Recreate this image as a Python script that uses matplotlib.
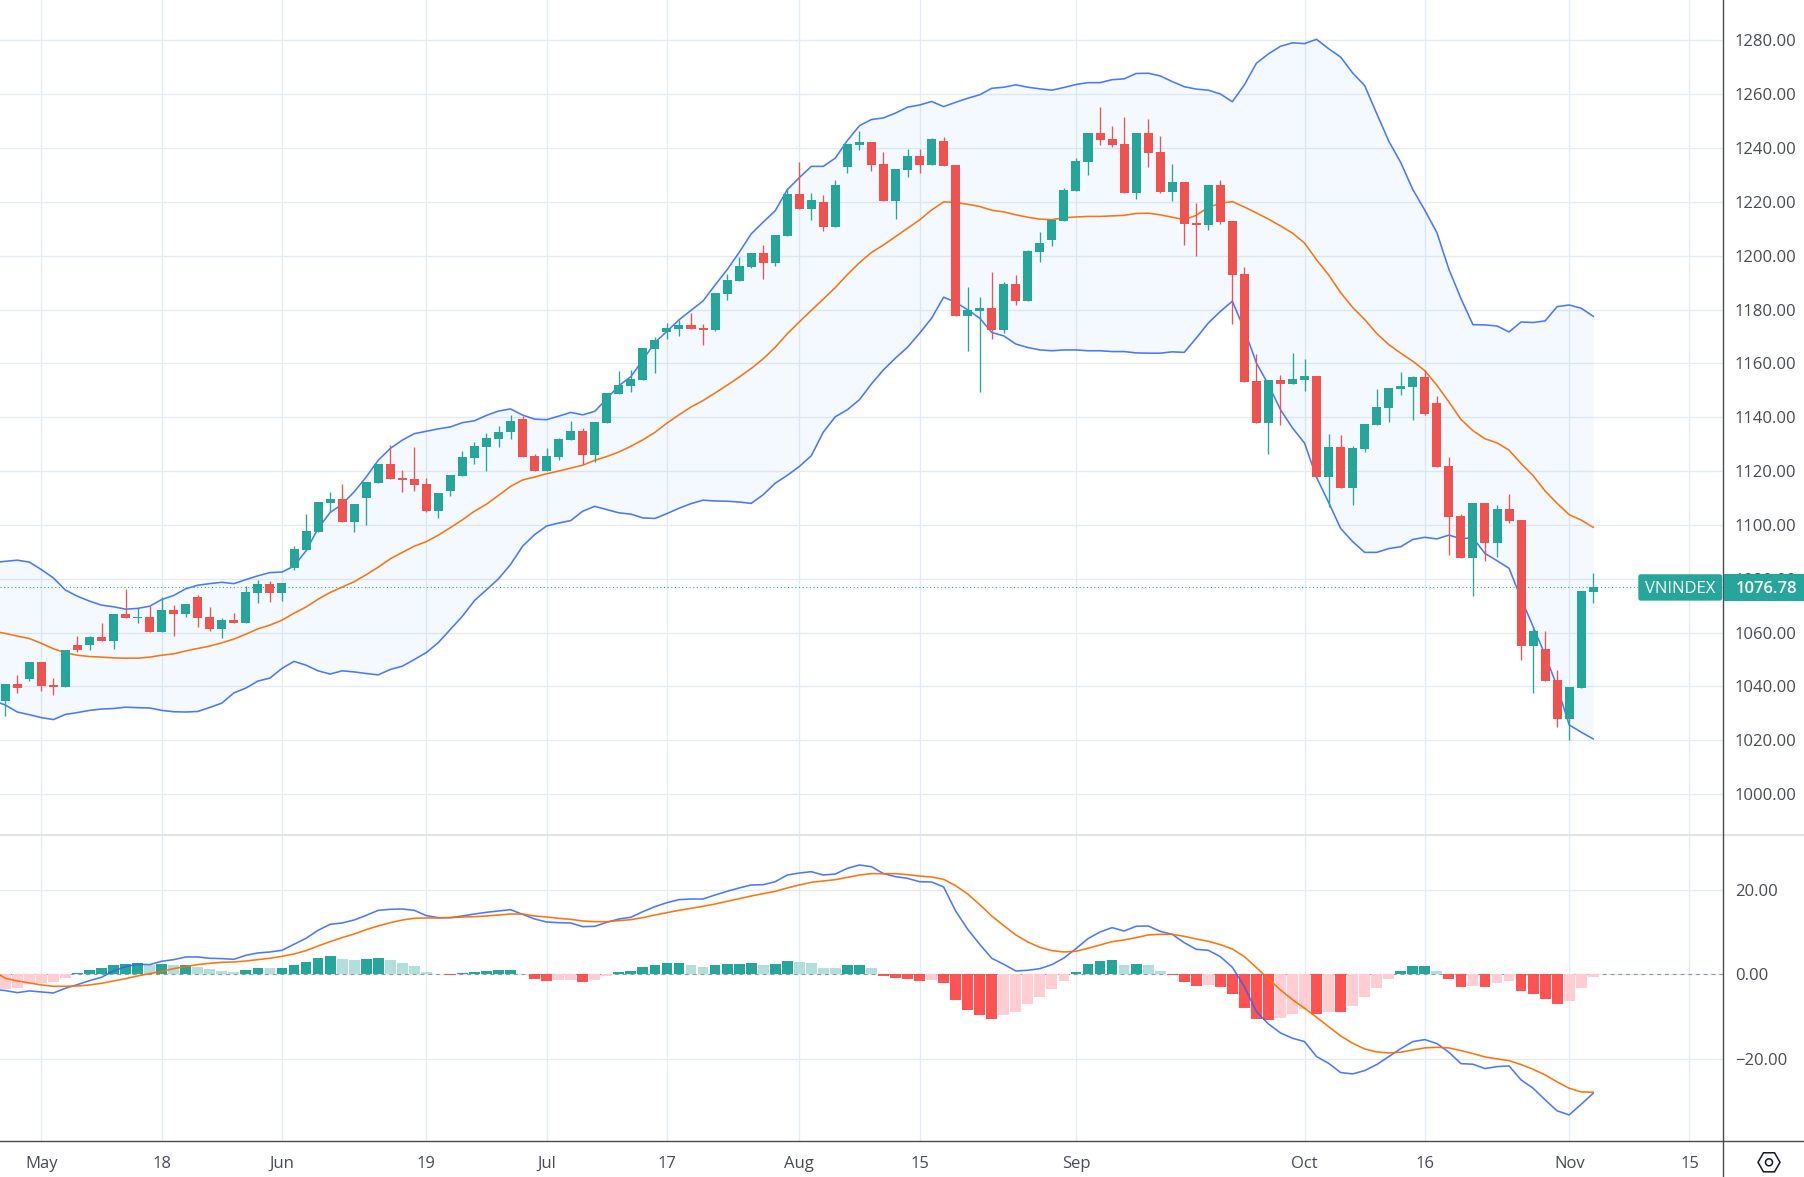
import matplotlib
matplotlib.use('Agg')
import matplotlib.pyplot as plt
from matplotlib.patches import FancyBboxPatch, RegularPolygon, Circle
import numpy as np

plt.rcParams['font.family'] = ['Open Sans', 'DejaVu Sans']

# Candles, one value per trading day
opens = [1034.7, 1040.9, 1042.8, 1049.0, 1040.5, 1039.9, 1055.3, 1055.5, 1058.3, 1057.0, 1066.9, 1065.4, 1065.7, 1060.3, 1068.3, 1067.0, 1073.2, 1065.7, 1061.4, 1064.6,
         1063.6, 1074.8, 1078.0, 1074.8, 1084.1, 1090.7, 1097.4, 1108.2, 1109.6, 1101.1, 1110.0, 1115.6, 1122.5, 1117.4, 1117.0, 1115.1, 1105.1, 1112.5, 1118.1, 1124.8,
         1128.9, 1131.8, 1134.4, 1139.4, 1125.7, 1120.2, 1125.3, 1131.6, 1135.0, 1126.1, 1138.0, 1148.7, 1151.7, 1153.9, 1165.4, 1171.7, 1172.8, 1174.3, 1173.2, 1172.5,
         1185.8, 1190.7, 1195.9, 1201.1, 1197.4, 1207.4, 1223.0, 1217.4, 1220.0, 1210.7, 1233.0, 1241.2, 1242.3, 1234.1, 1220.4, 1231.9, 1237.1, 1233.7, 1242.6, 1233.7,
         1177.7, 1179.5, 1180.6, 1172.5, 1189.6, 1183.2, 1201.4, 1205.9, 1212.9, 1224.1, 1234.9, 1245.6, 1243.4, 1241.5, 1223.3, 1245.6, 1238.6, 1223.7, 1227.4, 1212.2,
         1211.5, 1226.3, 1212.9, 1193.3, 1153.5, 1137.9, 1153.9, 1152.4, 1153.9, 1155.4, 1117.9, 1128.9, 1113.7, 1128.2, 1137.1, 1143.4, 1150.4, 1151.2, 1154.9, 1145.2,
         1121.9, 1103.3, 1087.7, 1108.1, 1093.3, 1105.9, 1101.8, 1055.0, 1053.9, 1042.4, 1027.9, 1039.4, 1075.2]
closes = [1040.9, 1039.5, 1049.0, 1040.2, 1039.9, 1053.5, 1053.6, 1058.3, 1056.8, 1066.9, 1065.5, 1065.7, 1060.3, 1068.3, 1067.0, 1070.6, 1065.5, 1061.4, 1064.6, 1063.6,
          1075.0, 1078.0, 1074.8, 1078.4, 1091.0, 1097.7, 1108.4, 1109.6, 1101.1, 1107.7, 1115.9, 1122.5, 1117.1, 1116.6, 1114.8, 1105.1, 1111.8, 1118.5, 1125.1, 1129.2,
          1132.2, 1134.4, 1138.7, 1125.3, 1120.2, 1125.7, 1132.0, 1135.0, 1126.1, 1138.3, 1149.1, 1152.1, 1154.3, 1165.8, 1168.8, 1173.2, 1174.3, 1172.8, 1172.5, 1186.2,
          1191.0, 1196.2, 1201.1, 1197.4, 1207.7, 1223.0, 1217.4, 1220.7, 1210.7, 1226.3, 1241.5, 1242.3, 1233.7, 1220.4, 1232.3, 1237.1, 1233.7, 1243.4, 1233.4, 1177.7,
          1179.9, 1180.6, 1172.5, 1189.6, 1183.2, 1201.8, 1204.8, 1213.3, 1224.5, 1235.2, 1245.6, 1243.0, 1241.2, 1223.3, 1245.6, 1238.2, 1223.7, 1227.4, 1211.8, 1211.5,
          1226.3, 1212.6, 1192.9, 1153.2, 1137.9, 1153.9, 1152.4, 1154.3, 1155.4, 1117.9, 1128.9, 1113.7, 1128.5, 1137.5, 1143.8, 1150.8, 1151.6, 1154.9, 1141.2, 1121.5,
          1102.9, 1087.7, 1108.1, 1093.3, 1105.9, 1101.4, 1055.0, 1060.6, 1042.0, 1027.9, 1039.8, 1075.4, 1076.78]
highs = [1040.9, 1044.2, 1049.0, 1049.0, 1043.0, 1053.5, 1058.7, 1058.6, 1063.5, 1066.9, 1076.1, 1069.0, 1069.7, 1073.4, 1070.1, 1070.6, 1073.9, 1069.5, 1065.4, 1067.2,
         1077.3, 1079.5, 1079.0, 1078.4, 1092.1, 1104.0, 1108.4, 1112.2, 1115.1, 1107.7, 1115.9, 1122.5, 1129.6, 1120.3, 1128.9, 1117.4, 1111.8, 1118.5, 1127.4, 1130.7,
         1134.1, 1136.7, 1140.9, 1140.5, 1126.4, 1128.7, 1132.4, 1138.7, 1136.1, 1138.3, 1149.1, 1157.3, 1157.6, 1165.8, 1169.9, 1175.1, 1176.2, 1178.8, 1174.7, 1186.2,
         1193.3, 1199.6, 1201.1, 1204.0, 1207.7, 1225.2, 1234.9, 1223.3, 1222.6, 1228.2, 1241.5, 1246.4, 1242.3, 1238.6, 1232.3, 1239.7, 1239.7, 1243.8, 1244.1, 1233.7,
         1188.4, 1184.7, 1194.0, 1190.3, 1192.9, 1202.2, 1208.9, 1213.7, 1225.2, 1236.3, 1245.6, 1255.3, 1248.2, 1251.6, 1245.6, 1250.8, 1244.5, 1234.1, 1227.4, 1219.6,
         1226.3, 1228.2, 1212.9, 1195.9, 1163.6, 1153.9, 1155.8, 1163.9, 1161.7, 1155.4, 1133.7, 1133.4, 1129.3, 1137.5, 1150.4, 1150.8, 1156.8, 1155.3, 1157.5, 1147.8,
         1125.2, 1104.0, 1108.1, 1108.1, 1107.4, 1111.5, 1101.8, 1062.1, 1060.6, 1046.1, 1039.8, 1075.4, 1082.1]
lows = [1029.1, 1037.6, 1042.1, 1038.4, 1036.9, 1039.9, 1052.9, 1053.6, 1056.8, 1054.0, 1065.5, 1063.6, 1060.3, 1060.3, 1058.8, 1065.9, 1062.2, 1060.7, 1058.1, 1063.6,
        1063.6, 1071.1, 1071.4, 1071.8, 1083.3, 1090.7, 1097.4, 1104.7, 1101.1, 1097.4, 1099.9, 1115.6, 1117.1, 1112.3, 1112.6, 1104.7, 1102.6, 1110.7, 1118.1, 1122.6,
        1120.0, 1128.9, 1132.0, 1125.3, 1120.2, 1120.2, 1124.0, 1131.6, 1122.5, 1123.2, 1138.0, 1148.7, 1149.5, 1153.9, 1156.5, 1169.1, 1170.2, 1172.8, 1166.9, 1172.1,
        1183.6, 1190.7, 1195.5, 1191.4, 1196.2, 1207.4, 1217.4, 1213.3, 1209.2, 1210.7, 1230.8, 1239.3, 1231.5, 1220.4, 1213.7, 1229.3, 1230.8, 1233.7, 1233.4, 1177.7,
        1164.7, 1149.5, 1169.1, 1171.4, 1181.8, 1183.2, 1197.7, 1203.7, 1212.9, 1224.1, 1230.0, 1241.2, 1240.4, 1223.3, 1221.1, 1233.0, 1223.3, 1220.4, 1204.0, 1200.0,
        1209.6, 1211.8, 1174.7, 1153.2, 1137.9, 1126.4, 1137.2, 1152.4, 1149.8, 1117.9, 1106.8, 1113.7, 1107.4, 1127.0, 1137.1, 1138.2, 1148.2, 1138.9, 1140.8, 1121.5,
        1088.8, 1087.7, 1073.6, 1086.6, 1088.1, 1100.7, 1049.8, 1037.6, 1042.0, 1025.0, 1020.1, 1039.4, 1071.0]

# Bollinger bands, these lists hold one extra leading day that runs off the left edge
bb_upper = [1085.9, 1086.5, 1086.9, 1086.2, 1083.4, 1080.3, 1075.8, 1073.5, 1071.7, 1070.2, 1069.6, 1068.7, 1069.0, 1069.8, 1072.3, 1073.8, 1076.3, 1077.6, 1078.2, 1078.7, 1078.2,
            1079.7, 1081.1, 1082.3, 1082.5, 1084.7, 1090.4, 1098.7, 1104.6, 1107.7, 1112.3, 1117.8, 1124.0, 1128.4, 1131.5, 1133.9, 1134.8, 1135.7, 1136.4, 1138.0, 1138.7,
            1140.7, 1142.3, 1143.1, 1140.8, 1139.3, 1139.1, 1140.4, 1141.8, 1140.9, 1142.2, 1146.9, 1151.7, 1155.1, 1161.3, 1167.8, 1171.9, 1176.2, 1179.7, 1183.2, 1189.1,
            1194.8, 1201.2, 1208.1, 1212.5, 1216.7, 1224.5, 1229.0, 1233.2, 1233.2, 1236.3, 1242.8, 1248.3, 1250.6, 1251.2, 1253.0, 1255.2, 1256.0, 1257.3, 1255.4, 1257.0,
            1258.5, 1259.8, 1262.2, 1262.6, 1263.5, 1262.6, 1262.0, 1261.5, 1262.5, 1263.6, 1264.3, 1264.3, 1265.4, 1265.7, 1267.7, 1267.8, 1266.8, 1264.7, 1262.8, 1261.9,
            1261.5, 1260.1, 1257.2, 1263.5, 1271.5, 1275.0, 1277.8, 1279.1, 1278.8, 1280.4, 1276.9, 1273.8, 1267.9, 1263.2, 1252.8, 1242.6, 1234.6, 1224.6, 1216.9, 1208.6,
            1195.0, 1184.1, 1174.4, 1174.3, 1173.9, 1171.7, 1175.4, 1175.2, 1175.8, 1181.1, 1181.7, 1180.5, 1177.5]
bb_basis = [1060.5, 1059.7, 1058.7, 1057.8, 1056.0, 1054.0, 1052.5, 1051.6, 1051.1, 1050.9, 1050.6, 1050.5, 1050.5, 1050.9, 1051.6, 1052.1, 1053.2, 1054.1, 1055.0, 1056.2, 1057.6,
            1059.4, 1061.4, 1062.8, 1064.6, 1067.2, 1069.5, 1072.4, 1074.9, 1076.9, 1078.9, 1081.5, 1084.3, 1087.4, 1089.8, 1092.1, 1093.8, 1096.2, 1099.0, 1101.9, 1105.1,
            1107.7, 1111.0, 1114.3, 1116.7, 1117.8, 1119.0, 1120.0, 1121.1, 1122.2, 1124.0, 1125.4, 1127.1, 1129.2, 1131.6, 1134.4, 1137.8, 1140.9, 1143.8, 1146.2, 1149.0,
            1151.9, 1154.9, 1158.1, 1161.7, 1166.0, 1171.0, 1175.4, 1179.7, 1183.9, 1188.2, 1193.0, 1197.4, 1201.2, 1204.0, 1207.1, 1210.2, 1213.3, 1217.0, 1220.0, 1219.8,
            1219.1, 1218.3, 1216.9, 1216.3, 1215.2, 1214.3, 1213.6, 1213.4, 1214.1, 1214.4, 1214.6, 1214.6, 1214.8, 1215.0, 1215.7, 1215.8, 1215.2, 1214.3, 1213.4, 1215.0,
            1218.0, 1219.5, 1220.1, 1218.1, 1215.9, 1213.6, 1211.1, 1208.4, 1204.7, 1198.5, 1192.9, 1186.3, 1180.8, 1176.3, 1171.1, 1167.0, 1163.8, 1160.8, 1157.3, 1151.9,
            1145.7, 1139.2, 1135.0, 1132.0, 1130.5, 1127.8, 1122.8, 1118.3, 1112.6, 1108.0, 1103.8, 1101.8, 1099.1]
bb_lower = [1034.7, 1033.1, 1030.5, 1029.5, 1028.4, 1027.7, 1029.6, 1030.3, 1031.1, 1031.6, 1031.8, 1032.3, 1032.1, 1032.0, 1031.1, 1030.6, 1030.5, 1030.7, 1032.2, 1033.8, 1037.6,
            1039.4, 1042.0, 1043.1, 1046.7, 1049.3, 1047.9, 1045.8, 1044.6, 1045.8, 1045.4, 1044.8, 1044.3, 1046.3, 1047.5, 1050.0, 1052.6, 1056.3, 1061.2, 1066.1, 1071.9,
            1075.9, 1080.0, 1085.3, 1092.1, 1096.4, 1099.6, 1100.7, 1101.6, 1105.1, 1106.9, 1105.7, 1104.5, 1104.0, 1102.6, 1102.4, 1104.2, 1106.2, 1107.9, 1109.2, 1108.9,
            1108.8, 1108.5, 1108.0, 1111.2, 1115.5, 1118.4, 1121.7, 1125.7, 1134.5, 1140.2, 1142.8, 1146.5, 1152.4, 1157.6, 1162.0, 1166.0, 1171.2, 1176.8, 1184.6, 1182.7,
            1179.9, 1176.8, 1171.5, 1170.2, 1167.2, 1165.9, 1165.0, 1164.7, 1165.0, 1165.0, 1164.7, 1164.7, 1164.4, 1164.4, 1163.9, 1163.8, 1163.8, 1164.3, 1164.1, 1169.4,
            1175.0, 1179.3, 1183.1, 1172.5, 1160.1, 1152.1, 1142.8, 1136.0, 1130.4, 1117.6, 1108.4, 1098.7, 1093.8, 1089.8, 1089.8, 1091.2, 1091.9, 1094.6, 1095.4, 1094.8,
            1096.2, 1094.9, 1095.2, 1089.4, 1086.7, 1083.9, 1072.7, 1062.2, 1051.7, 1039.9, 1025.7, 1023.0, 1020.5]

# MACD pane, the two lines also start one day early
macd = [-3.55, -3.86, -4.34, -3.94, -4.18, -4.42, -3.31, -2.44, -1.5, -0.71, 0.79, 1.81, 2.37, 2.29, 3.08, 3.47, 4.1, 4.1, 3.79, 3.71, 3.55,
        4.5, 5.05, 5.28, 5.68, 7.1, 8.52, 10.41, 11.83, 12.15, 12.85, 13.96, 15.14, 15.38, 15.46, 15.14, 13.88, 13.41, 13.41, 13.8, 14.27,
        14.67, 14.98, 15.3, 14.2, 13.09, 12.38, 12.22, 12.15, 11.28, 11.36, 12.3, 13.09, 13.49, 14.83, 16.01, 16.96, 17.67, 17.82, 17.82, 18.77,
        19.64, 20.43, 21.14, 21.21, 21.92, 23.5, 23.97, 24.29, 23.5, 23.74, 25.08, 25.87, 25.47, 23.82, 23.11, 22.71, 21.92, 21.85, 20.66, 14.98,
        10.65, 7.1, 3.79, 2.37, 0.79, 0.95, 1.34, 2.29, 3.86, 6.07, 8.44, 10.02, 11.04, 10.25, 11.36, 11.44, 10.17, 9.46, 7.49, 5.91,
        5.68, 4.18, 1.66, -2.92, -8.83, -11.75, -13.88, -15.14, -15.93, -19.48, -21.06, -23.26, -23.58, -22.79, -21.37, -19.48, -17.59, -15.93, -15.46, -16.4,
        -18.45, -21.14, -21.29, -22.32, -21.85, -21.69, -25.0, -26.97, -29.73, -32.33, -33.28, -30.76, -28.15]
signal = [0.85, -0.95, -1.58, -2.05, -2.52, -2.84, -2.84, -2.76, -2.52, -2.13, -1.58, -1.03, -0.39, 0.16, 0.71, 1.34, 1.81, 2.29, 2.6, 2.84, 2.92,
          3.15, 3.47, 3.79, 4.26, 4.81, 5.6, 6.7, 7.73, 8.68, 9.54, 10.57, 11.44, 12.22, 12.85, 13.25, 13.33, 13.33, 13.41, 13.56, 13.64,
          13.8, 14.04, 14.27, 14.27, 13.8, 13.56, 13.25, 13.01, 12.62, 12.46, 12.46, 12.7, 12.93, 13.41, 14.04, 14.59, 15.14, 15.62, 16.09, 16.64,
          17.27, 17.9, 18.53, 19.09, 19.64, 20.43, 21.14, 21.77, 22.08, 22.4, 22.95, 23.5, 23.82, 23.82, 23.82, 23.58, 23.26, 23.03, 22.48, 20.98,
          19.01, 16.48, 13.8, 11.51, 9.31, 7.65, 6.39, 5.6, 5.28, 5.44, 6.15, 6.94, 7.73, 8.12, 8.68, 9.31, 9.46, 9.46, 8.99, 8.36,
          7.81, 7.02, 5.99, 4.18, 1.58, -1.1, -3.71, -5.99, -8.04, -10.17, -12.38, -14.59, -16.32, -17.67, -18.38, -18.61, -18.45, -17.9, -17.43, -17.27,
          -17.43, -18.06, -18.77, -19.56, -20.03, -20.43, -21.37, -22.48, -23.82, -25.47, -26.97, -27.84, -27.92]
histogram = [-3.5, -3.2, -2.3, -2.1, -1.8, -0.9, 0.3, 1.0, 1.5, 2.2, 2.4, 2.7, 2.2, 2.4, 2.2, 2.25, 1.7, 1.3, 0.8, 0.6,
             1.0, 1.5, 1.45, 1.55, 2.2, 2.9, 3.9, 4.3, 3.6, 3.4, 3.6, 3.9, 3.4, 2.7, 2.0, 0.55, 0.15, -0.15, 0.3, 0.55,
             0.8, 1.0, 1.05, 0.1, -1.1, -1.6, -1.3, -1.25, -1.8, -1.3, -0.35, 0.55, 0.8, 1.7, 2.2, 2.7, 2.75, 2.2, 1.7, 2.2,
             2.4, 2.45, 2.7, 2.2, 2.4, 3.2, 2.9, 2.7, 1.5, 1.45, 2.2, 2.25, 1.5, -0.4, -0.9, -1.1, -1.6, -1.3, -2.1, -6.1,
             -8.4, -9.6, -10.6, -9.6, -8.9, -7.0, -5.4, -3.5, -1.6, 0.55, 2.4, 3.2, 3.4, 2.2, 2.4, 2.2, 0.8, -0.15, -1.8, -2.8,
             -2.5, -3.0, -4.65, -8.0, -10.6, -10.8, -10.3, -9.4, -8.2, -9.4, -8.9, -8.95, -7.5, -5.3, -3.2, -1.1, 0.8, 2.0, 2.05, 0.8,
             -1.1, -3.0, -2.8, -3.0, -2.05, -1.6, -3.9, -4.65, -5.8, -7.0, -6.3, -3.2, -0.6]

# Time axis and price scales
date_ticks = [3, 13, 23, 35, 45, 55, 66, 76, 89, 108, 118, 130, 140]
date_labels = ['May', '18', 'Jun', '19', 'Jul', '17', 'Aug', '15', 'Sep', 'Oct', '16', 'Nov', '15']
price_ticks = list(range(1000, 1281, 20))
macd_ticks = [20, 0, -20]
symbol = 'VNINDEX'

UP = '#26A69A'
DOWN = '#EF5350'
GRID = '#E4ECF3'
TEXT = '#484B55'
LINE_BLUE = '#2962FF'
LINE_ORANGE = '#FF6D00'

W, H = 1804, 1177
SPLIT_X, PANE_Y, AXIS_Y = 1723.3, 834.5, 1141
XLIM = (-0.44, 142.81)
PRICE_YLIM = (985.0, 1295.0)
MACD_YLIM = (-39.46, 33.09)


def create_chart():
    fig = plt.figure(figsize=(W / 100, H / 100), dpi=100, facecolor='white')
    ax = fig.add_axes([0, 1 - PANE_Y / H, SPLIT_X / W, PANE_Y / H])
    ax2 = fig.add_axes([0, 1 - AXIS_Y / H, SPLIT_X / W, (AXIS_Y - PANE_Y) / H])

    x = np.arange(len(closes))
    x_lines = np.arange(-1, len(closes))
    op, cl = np.array(opens), np.array(closes)
    colors = [UP if c >= o else DOWN for o, c in zip(op, cl)]

    # Price pane
    ax.fill_between(x_lines, bb_upper, bb_lower, color='#2196F3', alpha=0.05, lw=0, zorder=1)
    ax.plot(x_lines, bb_upper, color=LINE_BLUE, lw=1.15, alpha=0.85, zorder=2)
    ax.plot(x_lines, bb_lower, color=LINE_BLUE, lw=1.15, alpha=0.85, zorder=2)
    ax.plot(x_lines, bb_basis, color=LINE_ORANGE, lw=1.15, alpha=0.95, zorder=2)
    ax.vlines(x, lows, highs, colors=colors, lw=0.95, zorder=3)
    ax.bar(x, np.abs(cl - op), bottom=np.minimum(op, cl), width=0.75, color=colors, lw=0, zorder=4)
    ax.axhline(closes[-1], color=UP, lw=0.75, ls=(0, (1, 2.5)), zorder=5)

    ax.set_xlim(*XLIM)
    ax.set_ylim(*PRICE_YLIM)
    ax.set_yticks(price_ticks)
    ax.set_yticklabels([f'{p:.2f}' for p in price_ticks])

    # MACD pane
    hist_colors = []
    for i, h in enumerate(histogram):
        prev = histogram[i - 1] if i else h - 1
        if h >= 0:
            hist_colors.append('#26A69A' if h > prev else '#B2DFDB')
        else:
            hist_colors.append('#FF5252' if h < prev else '#FFCDD2')
    ax2.bar(x, histogram, width=0.9, color=hist_colors, lw=0, zorder=3)
    ax2.axhline(0, color='#9598A1', lw=0.8, ls=(0, (3.5, 3.5)), zorder=2)
    ax2.plot(x_lines, macd, color=LINE_BLUE, lw=1.15, alpha=0.85, zorder=4)
    ax2.plot(x_lines, signal, color=LINE_ORANGE, lw=1.15, alpha=0.95, zorder=4)

    ax2.set_xlim(*XLIM)
    ax2.set_ylim(*MACD_YLIM)
    ax2.set_yticks(macd_ticks)
    ax2.set_yticklabels([f'{v:.2f}'.replace('-', '\u2212') for v in macd_ticks])

    for a in (ax, ax2):
        a.set_facecolor('none')
        a.yaxis.tick_right()
        a.set_xticks(date_ticks)
        a.grid(True, color=GRID, lw=0.95, zorder=0)
        a.set_axisbelow(True)
        a.tick_params(axis='y', length=0, pad=8.2, labelsize=12, labelcolor=TEXT)
        for s in a.spines.values():
            s.set_visible(False)
    ax.tick_params(axis='x', length=0, labelbottom=False)
    ax2.set_xticklabels(date_labels)
    ax2.tick_params(axis='x', length=0, pad=11, labelsize=12, labelcolor=TEXT)

    # Scale dividers, last-price label and settings icon sit in a pixel overlay
    top = fig.add_axes([0, 0, 1, 1], zorder=5)
    top.set_xlim(0, W)
    top.set_ylim(H, 0)
    top.axis('off')
    top.plot([0, W], [PANE_Y, PANE_Y], color='#E0E3EB', lw=1.5)
    top.plot([0, W], [AXIS_Y, AXIS_Y], color=TEXT, lw=1.0)
    top.plot([SPLIT_X, SPLIT_X], [0, H], color=TEXT, lw=1.0)

    y_last = (PRICE_YLIM[1] - closes[-1]) / (PRICE_YLIM[1] - PRICE_YLIM[0]) * PANE_Y
    top.add_patch(FancyBboxPatch((1639.5, y_last - 12), 81.5, 24, boxstyle='round,pad=1.2,rounding_size=2.5',
                                 fc=UP, ec='none', zorder=6))
    top.add_patch(FancyBboxPatch((1724, y_last - 13.2), W - 1724 + 4, 26.4, boxstyle='square,pad=0',
                                 fc=UP, ec='none', zorder=6))
    top.text(1680, y_last, symbol, color='white', fontsize=12, ha='center', va='center_baseline', zorder=7)
    top.text(1735.5, y_last, f'{closes[-1]:.2f}', color='white', fontsize=12, fontweight='semibold',
             ha='left', va='center_baseline', zorder=7)

    top.add_patch(RegularPolygon((1769, 1162.3), 6, radius=11, orientation=np.pi / 2,
                                 fc='none', ec='#131722', lw=1.1))
    top.add_patch(Circle((1769, 1162.3), 3.5, fc='none', ec='#131722', lw=1.1))
    return fig


if __name__ == "__main__":
    fig = create_chart()
    fig.savefig('out.png', dpi=100, facecolor='white')
